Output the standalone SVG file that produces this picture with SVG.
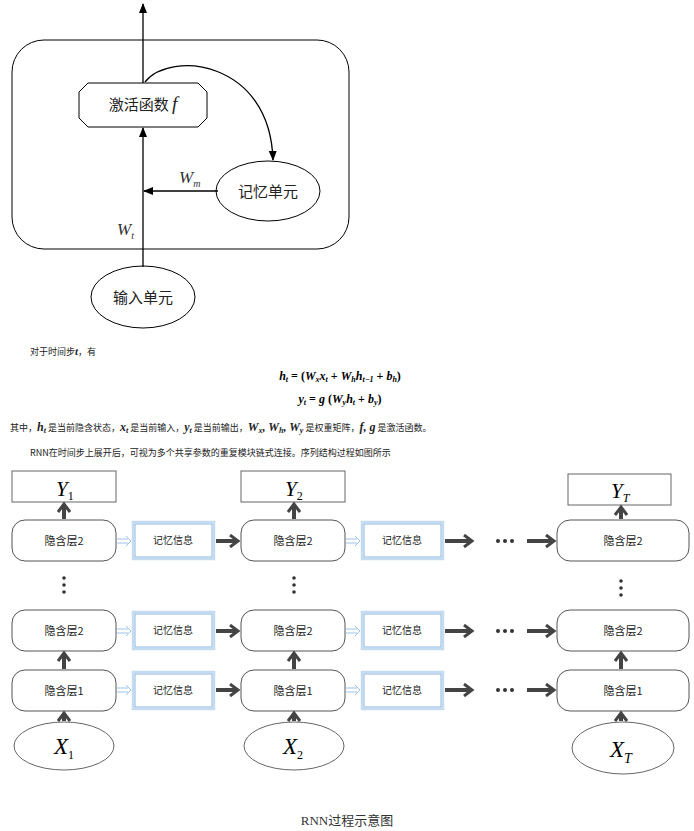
<svg xmlns="http://www.w3.org/2000/svg" width="694" height="831" viewBox="0 0 694 831">
<style>
.cn{font-family:"Noto Sans CJK SC","Noto Sans",sans-serif;fill:#222}
.m{font-family:"Liberation Serif",serif;font-style:italic}
.ln{stroke:#000;stroke-width:1.3;fill:none}
.hid{fill:#fff;stroke:#555;stroke-width:1}
.mem{fill:#fff;stroke:#c5dcf0;stroke-width:2.5}
.mem2{fill:none;stroke:#6fa6d8;stroke-width:0.8}
.thick line{stroke:#444;stroke-width:4;fill:none}
.lb{stroke:#9dc3e6;stroke-width:1;fill:none}
</style>
<defs>
<marker id="a" markerWidth="10" markerHeight="10" refX="9" refY="5" orient="auto" markerUnits="userSpaceOnUse"><path d="M0,1 L10,5 L0,9 Z" fill="#000"/></marker>
<marker id="t" markerWidth="12" markerHeight="14" refX="8" refY="7" orient="auto" markerUnits="userSpaceOnUse"><path d="M1,1 L9,7 L1,13" fill="none" stroke="#444" stroke-width="3"/></marker>
</defs>
<g id="frame"><rect x="12" y="40" width="337" height="209" rx="32" fill="none" stroke="#000"/></g>
<g id="act"><path d="M88,83 H198 L207,92 V118 L198,127 H88 L79,118 V92 Z" fill="#fff" stroke="#000"/>
<text x="143" y="110" class="cn" font-size="15" text-anchor="middle">激活函数 <tspan class="m" font-size="19">f</tspan></text></g>
<g id="mem"><ellipse cx="268" cy="191" rx="52" ry="30" fill="#fff" stroke="#000"/><text x="268" y="197" class="cn" font-size="15" text-anchor="middle">记忆单元</text></g>
<g id="inp"><ellipse cx="143" cy="297" rx="52" ry="31" fill="#fff" stroke="#000"/><text x="143" y="303" class="cn" font-size="15" text-anchor="middle">输入单元</text></g>
<g id="top-conn">
<line x1="143" y1="83" x2="143" y2="4" class="ln" marker-end="url(#a)"/>
<path d="M145,82 C170,50 270,60 273,160" class="ln" marker-end="url(#a)"/>
<line x1="218" y1="191" x2="144" y2="191" class="ln" marker-end="url(#a)"/>
<line x1="143" y1="267" x2="143" y2="128" class="ln" marker-end="url(#a)"/>
<text x="179" y="183" class="m" font-size="17" fill="#333">W<tspan font-size="10" dy="4">m</tspan></text>
<text x="117" y="235" class="m" font-size="17" fill="#333">W<tspan font-size="10" dy="4">t</tspan></text>
</g>
<g id="text" font-size="9">
<text x="30" y="355" class="cn" font-size="9">对于时间步<tspan class="m" font-weight="bold" font-size="11">t</tspan>，有</text>
<text x="340" y="380" class="m" font-size="12" font-weight="bold" text-anchor="middle">h<tspan font-size="8" dy="2">t</tspan><tspan dy="-2" font-style="normal"> = (</tspan>W<tspan font-size="8" dy="2">x</tspan><tspan dy="-2">x</tspan><tspan font-size="8" dy="2">t</tspan><tspan dy="-2" font-style="normal"> + </tspan>W<tspan font-size="8" dy="2">h</tspan><tspan dy="-2">h</tspan><tspan font-size="8" dy="2">t−1</tspan><tspan dy="-2" font-style="normal"> + </tspan>b<tspan font-size="8" dy="2">h</tspan><tspan dy="-2" font-style="normal">)</tspan></text>
<text x="340" y="403" class="m" font-size="12" font-weight="bold" text-anchor="middle">y<tspan font-size="8" dy="2">t</tspan><tspan dy="-2" font-style="normal"> = </tspan>g<tspan font-style="normal"> (</tspan>W<tspan font-size="8" dy="2">y</tspan><tspan dy="-2">h</tspan><tspan font-size="8" dy="2">t</tspan><tspan dy="-2" font-style="normal"> + </tspan>b<tspan font-size="8" dy="2">y</tspan><tspan dy="-2" font-style="normal">)</tspan></text>
<text x="10" y="431" class="cn" font-size="9">其中，<tspan class="m" font-weight="bold" font-size="12">h<tspan font-size="8" dy="2">t</tspan></tspan><tspan dy="-2"> 是当前隐含状态，</tspan><tspan class="m" font-weight="bold" font-size="12">x<tspan font-size="8" dy="2">t</tspan></tspan><tspan dy="-2"> 是当前输入，</tspan><tspan class="m" font-weight="bold" font-size="12">y<tspan font-size="8" dy="2">t</tspan></tspan><tspan dy="-2"> 是当前输出，</tspan><tspan class="m" font-weight="bold" font-size="12">W<tspan font-size="8" dy="2">x</tspan><tspan dy="-2">, W</tspan><tspan font-size="8" dy="2">h</tspan><tspan dy="-2">, W</tspan><tspan font-size="8" dy="2">y</tspan></tspan><tspan dy="-2"> 是权重矩阵，</tspan><tspan class="m" font-weight="bold" font-size="12">f, g</tspan> 是激活函数。</text>
<text x="30" y="456" class="cn" font-size="9">RNN在时间步上展开后，可视为多个共享参数的重复模块链式连接。序列结构过程如图所示</text>
</g>
<g id="ys">
<rect x="12" y="471" width="104" height="31" fill="#fff" stroke="#666"/><text x="56" y="496" class="m" font-size="21">Y<tspan font-size="12" dy="4" font-style="normal">1</tspan></text>
<rect x="241" y="471" width="104" height="31" fill="#fff" stroke="#666"/><text x="285" y="496" class="m" font-size="21">Y<tspan font-size="12" dy="4" font-style="normal">2</tspan></text>
<rect x="568" y="474" width="103" height="31" fill="#fff" stroke="#666"/><text x="611" y="498" class="m" font-size="21">Y<tspan font-size="12" dy="4">T</tspan></text>
</g>
<g id="hidden" class="cn" font-size="11">
<rect x="12" y="520" width="104" height="41" rx="13" class="hid"/><text x="64" y="545" text-anchor="middle" class="cn">隐含层2</text>
<rect x="241" y="520" width="104" height="41" rx="13" class="hid"/><text x="293" y="545" text-anchor="middle" class="cn">隐含层2</text>
<rect x="557" y="520" width="132" height="41" rx="13" class="hid"/><text x="623" y="545" text-anchor="middle" class="cn">隐含层2</text>
<rect x="12" y="610" width="104" height="41" rx="13" class="hid"/><text x="64" y="635" text-anchor="middle" class="cn">隐含层2</text>
<rect x="241" y="610" width="104" height="41" rx="13" class="hid"/><text x="293" y="635" text-anchor="middle" class="cn">隐含层2</text>
<rect x="557" y="610" width="132" height="41" rx="13" class="hid"/><text x="623" y="635" text-anchor="middle" class="cn">隐含层2</text>
<rect x="12" y="670" width="104" height="41" rx="13" class="hid"/><text x="64" y="695" text-anchor="middle" class="cn">隐含层1</text>
<rect x="241" y="670" width="104" height="41" rx="13" class="hid"/><text x="293" y="695" text-anchor="middle" class="cn">隐含层1</text>
<rect x="557" y="670" width="132" height="41" rx="13" class="hid"/><text x="623" y="695" text-anchor="middle" class="cn">隐含层1</text>
</g>
<g id="memory" font-size="10">
<rect x="133" y="522" width="81" height="37" class="mem"/><rect x="135" y="524" width="77" height="33" class="mem2"/><text x="173" y="544" text-anchor="middle" class="cn">记忆信息</text>
<rect x="362" y="522" width="81" height="37" class="mem"/><rect x="364" y="524" width="77" height="33" class="mem2"/><text x="402" y="544" text-anchor="middle" class="cn">记忆信息</text>
<rect x="133" y="612" width="81" height="37" class="mem"/><rect x="135" y="614" width="77" height="33" class="mem2"/><text x="173" y="634" text-anchor="middle" class="cn">记忆信息</text>
<rect x="362" y="612" width="81" height="37" class="mem"/><rect x="364" y="614" width="77" height="33" class="mem2"/><text x="402" y="634" text-anchor="middle" class="cn">记忆信息</text>
<rect x="133" y="672" width="81" height="37" class="mem"/><rect x="135" y="674" width="77" height="33" class="mem2"/><text x="173" y="694" text-anchor="middle" class="cn">记忆信息</text>
<rect x="362" y="672" width="81" height="37" class="mem"/><rect x="364" y="674" width="77" height="33" class="mem2"/><text x="402" y="694" text-anchor="middle" class="cn">记忆信息</text>
</g>
<g id="xs">
<ellipse cx="64" cy="746" rx="50" ry="24" fill="#fff" stroke="#666"/><text x="54" y="754" class="m" font-size="23">X<tspan font-size="12" dy="5" font-style="normal">1</tspan></text>
<ellipse cx="294" cy="746" rx="50" ry="24" fill="#fff" stroke="#666"/><text x="283" y="754" class="m" font-size="23">X<tspan font-size="12" dy="5" font-style="normal">2</tspan></text>
<ellipse cx="623" cy="748" rx="51" ry="26" fill="#fff" stroke="#666"/><text x="610" y="757" class="m" font-size="23">X<tspan font-size="14" dy="6">T</tspan></text>
</g>
<g id="connectors">
<g class="thick">
<line x1="64" y1="519" x2="64" y2="505" marker-end="url(#t)"/>
<line x1="294" y1="519" x2="294" y2="505" marker-end="url(#t)"/>
<line x1="621" y1="519" x2="621" y2="508" marker-end="url(#t)"/>
<line x1="64" y1="669" x2="64" y2="654" marker-end="url(#t)"/>
<line x1="294" y1="669" x2="294" y2="654" marker-end="url(#t)"/>
<line x1="621" y1="669" x2="621" y2="654" marker-end="url(#t)"/>
<line x1="64" y1="721" x2="64" y2="714" marker-end="url(#t)"/>
<line x1="294" y1="721" x2="294" y2="714" marker-end="url(#t)"/>
<line x1="621" y1="721" x2="621" y2="714" marker-end="url(#t)"/>
<line x1="216" y1="541" x2="237" y2="541" marker-end="url(#t)"/>
<line x1="445" y1="541" x2="471" y2="541" marker-end="url(#t)"/>
<line x1="527" y1="541" x2="553" y2="541" marker-end="url(#t)"/>
<line x1="216" y1="631" x2="237" y2="631" marker-end="url(#t)"/>
<line x1="445" y1="631" x2="471" y2="631" marker-end="url(#t)"/>
<line x1="527" y1="631" x2="553" y2="631" marker-end="url(#t)"/>
<line x1="216" y1="690" x2="237" y2="690" marker-end="url(#t)"/>
<line x1="445" y1="690" x2="471" y2="690" marker-end="url(#t)"/>
<line x1="527" y1="690" x2="553" y2="690" marker-end="url(#t)"/>
</g>
<g class="lb">
<path d="M117,539 H128 M117,543 H128 M126,536 L131,541 L126,546"/>
<path d="M346,539 H357 M346,543 H357 M355,536 L360,541 L355,546"/>
<path d="M117,629 H128 M117,633 H128 M126,626 L131,631 L126,636"/>
<path d="M346,629 H357 M346,633 H357 M355,626 L360,631 L355,636"/>
<path d="M117,688 H128 M117,692 H128 M126,685 L131,690 L126,695"/>
<path d="M346,688 H357 M346,692 H357 M355,685 L360,690 L355,695"/>
</g>
</g>
<g id="dots" fill="#333">
<circle cx="498" cy="541" r="2"/><circle cx="505" cy="541" r="2"/><circle cx="512" cy="541" r="2"/>
<circle cx="498" cy="631" r="2"/><circle cx="505" cy="631" r="2"/><circle cx="512" cy="631" r="2"/>
<circle cx="498" cy="690" r="2"/><circle cx="505" cy="690" r="2"/><circle cx="512" cy="690" r="2"/>
<circle cx="64" cy="578" r="1.8"/><circle cx="64" cy="585" r="1.8"/><circle cx="64" cy="592" r="1.8"/>
<circle cx="294" cy="578" r="1.8"/><circle cx="294" cy="585" r="1.8"/><circle cx="294" cy="592" r="1.8"/>
<circle cx="621" cy="581" r="1.8"/><circle cx="621" cy="588" r="1.8"/><circle cx="621" cy="595" r="1.8"/>
</g>
<text x="347" y="825" text-anchor="middle" font-family="Liberation Serif,Noto Sans CJK SC,serif" font-size="13" fill="#333">RNN过程示意图</text>
</svg>
